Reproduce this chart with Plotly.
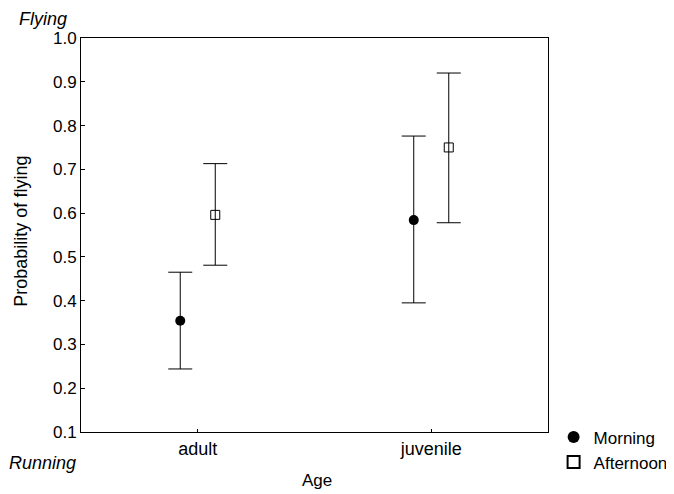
import plotly.graph_objects as go

ages = ["adult", "juvenile"]
age_pos = [0, 1]
morning = [0.354, 0.584]
morning_hi = [0.465, 0.776]
morning_lo = [0.244, 0.395]
afternoon = [0.596, 0.750]
afternoon_hi = [0.713, 0.920]
afternoon_lo = [0.481, 0.578]
yticks = [0.1, 0.2, 0.3, 0.4, 0.5, 0.6, 0.7, 0.8, 0.9, 1.0]
offset = 0.075

FONT = "Liberation Sans, Arial, sans-serif"

fig = go.Figure()
fig.add_trace(go.Scatter(
    x=[p - offset for p in age_pos], y=morning, mode="markers", name="Morning",
    marker=dict(symbol="circle", size=10, color="black"),
    error_y=dict(type="data", symmetric=False,
                 array=[h - m for h, m in zip(morning_hi, morning)],
                 arrayminus=[m - l for m, l in zip(morning, morning_lo)],
                 color="black", thickness=1, width=12),
))
fig.add_trace(go.Scatter(
    x=[p + offset for p in age_pos], y=afternoon, mode="markers", name="Afternoon",
    marker=dict(symbol="square-open", size=9, color="black", line=dict(width=1)),
    error_y=dict(type="data", symmetric=False,
                 array=[h - m for h, m in zip(afternoon_hi, afternoon)],
                 arrayminus=[m - l for m, l in zip(afternoon, afternoon_lo)],
                 color="black", thickness=1, width=12),
))

fig.update_layout(
    width=666, height=486,
    margin=dict(l=73, r=126, t=30, b=62, autoexpand=False),
    paper_bgcolor="white", plot_bgcolor="white",
    font=dict(family=FONT, size=17, color="black"),
    showlegend=True,
    legend=dict(x=1.012, y=0.032, xanchor="left", yanchor="top",
                font=dict(size=17), bgcolor="rgba(0,0,0,0)",
                tracegroupgap=0, itemsizing="constant"),
    xaxis=dict(range=[-0.5, 1.5], tickvals=age_pos, ticktext=ages,
               tickfont=dict(size=18),
               ticks="inside", ticklen=3, tickcolor="black",
               showline=True, linecolor="black", linewidth=1, mirror=True,
               showgrid=False, zeroline=False),
    yaxis=dict(range=[0.1, 1.0], tickvals=yticks,
               ticktext=[f"{v:.1f}" for v in yticks],
               tickfont=dict(size=17),
               ticks="inside", ticklen=4, tickcolor="black",
               showline=True, linecolor="black", linewidth=1, mirror=True,
               showgrid=False, zeroline=False),
    annotations=[
        dict(text="<i>Flying</i>", x=-0.081, y=1.049, xref="paper", yref="paper",
             xanchor="center", yanchor="middle", showarrow=False, font=dict(size=18),
             borderpad=0),
        dict(text="<i>Running</i>", x=-0.083, y=-0.079, xref="paper", yref="paper",
             xanchor="center", yanchor="middle", showarrow=False, font=dict(size=18)),
        dict(text="Probability of flying", x=-0.128, y=0.509, xref="paper", yref="paper",
             xanchor="center", yanchor="middle",
             textangle=-90, showarrow=False, font=dict(size=18)),
        dict(text="Age", x=0.505, y=-0.122, xref="paper", yref="paper",
             xanchor="center", yanchor="middle", showarrow=False, font=dict(size=17)),
    ],
)

fig.write_html("out.html")
